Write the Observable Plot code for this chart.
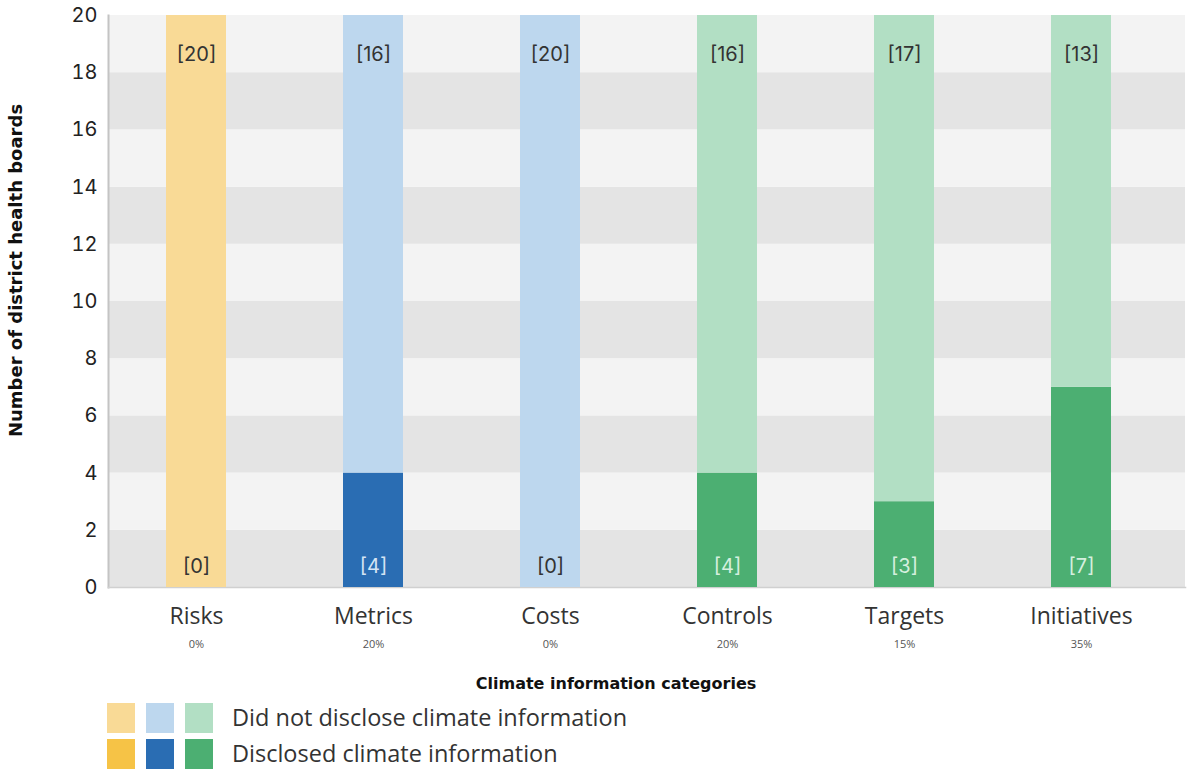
<!DOCTYPE html>
<html>
<head>
<meta charset="utf-8">
<script src="https://cdn.jsdelivr.net/npm/d3@7"></script>
<script src="https://cdn.jsdelivr.net/npm/@observablehq/plot@0.6"></script>
<style>
  body { margin: 0; background: #fff; font-family: "Open Sans", sans-serif; }
  #chart svg { display: block; }
  .legend { display: flex; flex-direction: column; gap: 6px; margin: 3px 0 0 107px; }
  .legend .row { display: flex; align-items: center; height: 30px; }
  .legend .sw { width: 28px; height: 30px; margin-right: 11px; }
  .legend .lab { margin-left: 8px; font-size: 23.5px; line-height: 1; color: #333; font-family: "Open Sans", sans-serif; }
</style>
</head>
<body>
<div id="chart"></div>
<div class="legend" id="legend"></div>
<script>
// Climate information categories and disclosure counts (20 boards in total)
const categories = ["Risks", "Metrics", "Costs", "Controls", "Targets", "Initiatives"];
const disclosed = [0, 4, 0, 4, 3, 7];
const notDisclosed = [20, 16, 20, 16, 17, 13];
const shareLabels = ["0%", "20%", "0%", "20%", "15%", "35%"];
const yTicks = [0, 2, 4, 6, 8, 10, 12, 14, 16, 18, 20];

// Colour families: [did not disclose, disclosed, label on disclosed bar]
const yellow = ["#f9da96", "#f6c346", "#fff3d6"];
const blue = ["#bdd7ee", "#2a6db3", "#d4e4f4"];
const green = ["#b2dfc4", "#4caf72", "#d5efdf"];
const families = [yellow, blue, blue, green, green, green];

const rows = [];
categories.forEach((c, i) => {
  rows.push({cat: c, value: disclosed[i], fill: families[i][1], order: 0});
  rows.push({cat: c, value: notDisclosed[i], fill: families[i][0], order: 1});
});
const totals = categories.map((c, i) => ({cat: c, total: disclosed[i] + notDisclosed[i], label: `[${notDisclosed[i]}]`}));
const bottoms = categories.map((c, i) => ({
  cat: c, label: `[${disclosed[i]}]`,
  color: disclosed[i] > 0 ? families[i][2] : "#333"
}));
const shares = categories.map((c, i) => ({cat: c, label: shareLabels[i]}));
const bands = d3.range(0, 20, 2).map((y, i) => ({y1: y, y2: y + 2, fill: i % 2 === 0 ? "#e4e4e4" : "#f3f3f3"}));

const chart = Plot.plot({
  width: 1189,
  height: 700,
  marginLeft: 108,
  marginRight: 4,
  marginTop: 15,
  marginBottom: 113,
  style: {fontFamily: "'Open Sans', sans-serif", background: "#fff"},
  x: {domain: categories, range: [108, 1170], paddingInner: 0.66, paddingOuter: 0.33},
  y: {domain: [0, 20], ticks: yTicks},
  color: {type: "identity"},
  marks: [
    Plot.rectY(bands, {y1: "y1", y2: "y2", fill: "fill"}),
    Plot.frame({anchor: "left", stroke: "#c4c4c4", strokeWidth: 2}),
    Plot.frame({anchor: "bottom", stroke: "#d0d0d0", strokeWidth: 1.5}),
    Plot.barY(rows, Plot.stackY({x: "cat", y: "value", fill: "fill", order: "order", inset: 0})),
    Plot.axisY({ticks: yTicks, tickSize: 0, tickPadding: 11, fontSize: 20, color: "#222", label: null, fontFamily: "Inter, sans-serif"}),
    Plot.axisX({tickSize: 0, tickPadding: 20, fontSize: 23, color: "#333", label: null, fontFamily: "'Open Sans', sans-serif"}),
    Plot.text(shares, {x: "cat", text: "label", frameAnchor: "bottom", dy: 60, fontSize: 11, fill: "#555"}),
    Plot.text(totals, {x: "cat", y: "total", text: "label", dy: 39, fontSize: 20, fill: "#333", fontFamily: "Inter, sans-serif"}),
    Plot.text(bottoms, {x: "cat", y: 0, text: "label", dy: -21, fontSize: 20, fill: "color", fontFamily: "Inter, sans-serif"}),
    Plot.text(["Climate information categories"], {frameAnchor: "bottom", dx: -31, dy: 101, fontSize: 16, fontWeight: "bold", fill: "#111", fontFamily: "'DejaVu Sans', sans-serif"}),
    Plot.text(["Number of district health boards"], {frameAnchor: "left", textAnchor: "middle", dx: -92, dy: -31, rotate: -90, fontSize: 18, fontWeight: "bold", fill: "#111", fontFamily: "'DejaVu Sans', sans-serif"})
  ]
});
document.getElementById("chart").append(chart);

// Legend: one swatch per colour family for each disclosure status
const legend = document.getElementById("legend");
[["Did not disclose climate information", 0], ["Disclosed climate information", 1]].forEach(([text, k]) => {
  const row = document.createElement("div");
  row.className = "row";
  [yellow, blue, green].forEach(f => {
    const sw = document.createElement("div");
    sw.className = "sw";
    sw.style.background = f[k];
    row.append(sw);
  });
  const lab = document.createElement("span");
  lab.className = "lab";
  lab.textContent = text;
  row.append(lab);
  legend.append(row);
});
</script>
</body>
</html>
